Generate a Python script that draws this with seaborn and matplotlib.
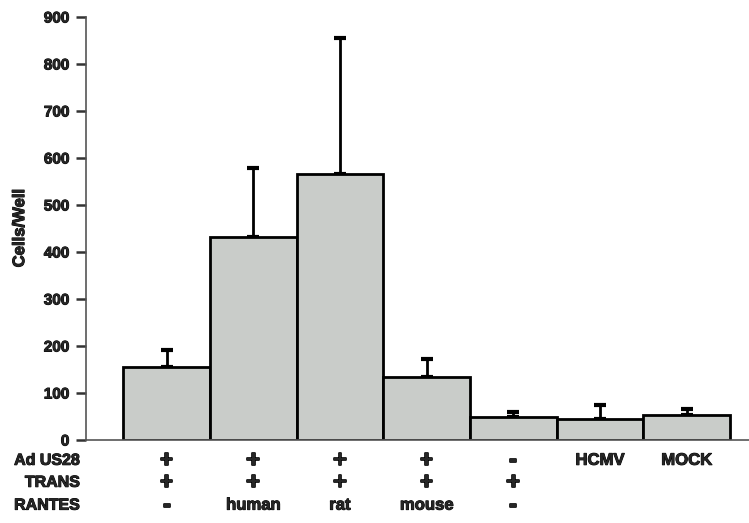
import matplotlib
matplotlib.use("Agg")
import matplotlib.pyplot as plt
import matplotlib.patheffects as pe
import seaborn as sns
import pandas as pd

# Conditions (one column per bar) and measured migration
ad_us28 = ["+", "+", "+", "+", "-", "HCMV", "MOCK"]
trans = ["+", "+", "+", "+", "+", "", ""]
rantes = ["-", "human", "rat", "mouse", "-", "", ""]
conditions = ["US28+TRANS", "US28+TRANS+hRANTES", "US28+TRANS+rRANTES",
              "US28+TRANS+mRANTES", "TRANS", "HCMV", "MOCK"]
cells_per_well = [155, 432, 566, 134, 49, 45, 53]
error_upper = [36, 147, 289, 38, 11, 29, 13]
y_ticks = [0, 100, 200, 300, 400, 500, 600, 700, 800, 900]

sns.set_theme(style="white")
plt.rcParams["font.family"] = ["Liberation Sans", "DejaVu Sans"]
plt.rcParams["font.weight"] = "bold"

# heavy strokes for the bold print lettering
heavy = [pe.withStroke(linewidth=0.7, foreground="black")]
heavier = [pe.withStroke(linewidth=1.2, foreground="black")]

df = pd.DataFrame({"condition": conditions, "cells": cells_per_well})

fig = plt.figure(figsize=(7.49, 5.23), dpi=100)
ax = fig.add_axes([0.1148, 0.1587, 0.8852, 0.8088])

sns.barplot(data=df, x="condition", y="cells", order=conditions,
            color="#c9ccc9", saturation=1, edgecolor="black", linewidth=2,
            width=1.0, errorbar=None, ax=ax, zorder=2)

xpos = list(range(len(conditions)))
ax.errorbar(xpos, cells_per_well, yerr=[[0] * len(error_upper), error_upper],
            fmt="none", ecolor="black", elinewidth=2, capsize=4.5,
            capthick=3, zorder=1)

ax.set_ylim(0, 900)
ax.set_xlim(-0.93, 6.72)
ax.set_yticks(y_ticks)
ax.set_yticklabels([str(t) for t in y_ticks], fontsize=11, fontweight="bold",
                   path_effects=heavy)
ax.set_xticks([])
ax.set_xlabel("")
ax.set_ylabel("Cells/Well", fontsize=12, fontweight="bold", labelpad=12,
              path_effects=heavy)

for side in ["top", "right"]:
    ax.spines[side].set_visible(False)
for side in ["left", "bottom"]:
    ax.spines[side].set_color("#555555")
    ax.spines[side].set_linewidth(1.2)

ax.tick_params(axis="y", direction="out", length=7, width=1.8,
               color="#333333", left=True, pad=5)

# Condition table under the bars
tr = ax.get_xaxis_transform()
row_y = [-0.048, -0.100, -0.154]
row_names = ["Ad US28", "TRANS", "RANTES"]
rows = [ad_us28, trans, rantes]
for ry, name, vals in zip(row_y, row_names, rows):
    fig.text(80 / 749, ax.transAxes.transform((0, ry))[1] / fig.bbox.height,
             name, ha="right", va="center", fontsize=11.5, fontweight="bold",
             path_effects=heavy)
    for x, v in zip(xpos, vals):
        if v:
            big = v in ("+", "-")
            ax.text(x, ry, v, transform=tr, ha="center", va="center",
                    fontsize=17 if big else 12, fontweight="bold",
                    clip_on=False, path_effects=heavier if big else heavy)

fig.savefig("out.png", dpi=100)
